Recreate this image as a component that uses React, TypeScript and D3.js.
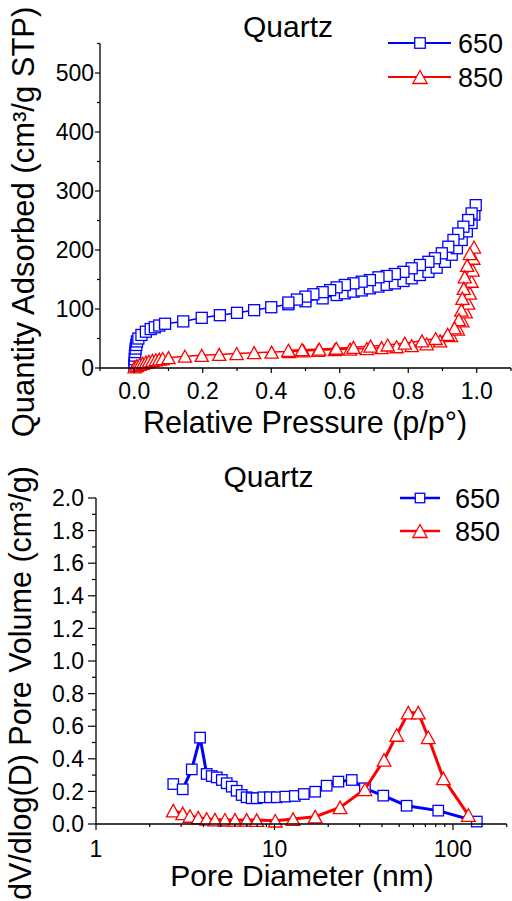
import React from 'react';
import * as d3 from 'd3';

const FONT = 'Liberation Sans, Arial, Helvetica, sans-serif';

const seriesNames = ['650', '850'];
const seriesColors = ['#0000FF', '#FF0000'];

// ---------- Isotherm (top) ----------
const isoTitle = 'Quartz';
const isoXLabel = 'Relative Pressure (p/p°)';
const isoYLabel = 'Quantity Adsorbed (cm³/g STP)';
const isoXTicks = [0, 0.2, 0.4, 0.6, 0.8, 1.0];
const isoXMinor = [-0.1, 0.1, 0.3, 0.5, 0.7, 0.9, 1.1];
const isoYTicks = [0, 100, 200, 300, 400, 500];
const isoYMinor = [50, 150, 250, 350, 450, 550];

const iso650Ads: [number, number][] = [
  [0.0005, 4], [0.001, 9], [0.0015, 15], [0.002, 21], [0.003, 27], [0.004, 33], [0.006, 39], [0.008, 45],
  [0.012, 50], [0.021, 56], [0.034, 61.5], [0.048, 66], [0.06, 69], [0.073, 72], [0.09, 75], [0.143, 79],
  [0.197, 85], [0.25, 89.5], [0.3, 93.5], [0.35, 98], [0.4, 103], [0.45, 108], [0.5, 113], [0.55, 118],
  [0.591, 123.7], [0.615, 126.6], [0.64, 129.4], [0.664, 131.5], [0.688, 135], [0.713, 138], [0.737, 141],
  [0.761, 143.5], [0.786, 147.5], [0.81, 152], [0.834, 157.6], [0.859, 163], [0.883, 170], [0.907, 180],
  [0.927, 192], [0.942, 203], [0.956, 217], [0.971, 231.6], [0.985, 245.8], [0.993, 260], [0.997, 276],
];
const iso650Des: [number, number][] = [
  [0.985, 262], [0.975, 250.8], [0.961, 239.5], [0.946, 228], [0.932, 217], [0.917, 205.6], [0.898, 194.4],
  [0.878, 186], [0.859, 180], [0.834, 174.6], [0.81, 169], [0.786, 163], [0.761, 159.3], [0.737, 156],
  [0.713, 153.7], [0.688, 149], [0.664, 146.3], [0.64, 143.5], [0.615, 140.7], [0.591, 136.7], [0.572, 132],
  [0.55, 128.5], [0.523, 125], [0.5, 121], [0.475, 116], [0.45, 111],
];
const iso850Ads: [number, number][] = [
  [0.001, 2], [0.008, 4], [0.016, 6], [0.025, 8], [0.034, 10], [0.043, 11.5], [0.053, 13], [0.063, 14],
  [0.073, 15], [0.083, 16], [0.1, 17.5], [0.148, 20], [0.197, 21.5], [0.248, 23], [0.299, 24.5], [0.35, 26],
  [0.401, 27], [0.452, 28], [0.494, 29], [0.537, 30], [0.586, 31], [0.63, 32], [0.679, 33], [0.722, 34.5],
  [0.766, 36], [0.81, 38], [0.854, 41], [0.893, 46], [0.925, 55], [0.945, 66], [0.958, 80], [0.968, 95],
  [0.975, 110], [0.98, 127], [0.985, 147], [0.988, 166], [0.99, 186], [0.992, 205],
];
const iso850Des: [number, number][] = [
  [0.98, 194], [0.972, 174], [0.965, 154.5], [0.962, 135], [0.958, 118], [0.955, 98], [0.948, 82], [0.935, 68],
  [0.915, 57], [0.88, 50], [0.84, 46], [0.79, 42], [0.74, 39], [0.69, 37], [0.64, 35], [0.59, 33.5],
  [0.54, 32], [0.49, 31], [0.45, 30],
];

// ---------- Pore size distribution (bottom) ----------
const psdTitle = 'Quartz';
const psdXLabel = 'Pore Diameter (nm)';
const psdYLabel = 'dV/dlog(D) Pore Volume (cm³/g)';
const psdXTicks = [1, 10, 100];
const psdXMinor = [2, 3, 4, 5, 6, 7, 8, 9, 20, 30, 40, 50, 60, 70, 80, 90, 200];
const psdYTicks = [0, 0.2, 0.4, 0.6, 0.8, 1.0, 1.2, 1.4, 1.6, 1.8, 2.0];
const psdYMinor = [0.1, 0.3, 0.5, 0.7, 0.9, 1.1, 1.3, 1.5, 1.7, 1.9];

const psd650D = [2.71, 3.06, 3.44, 3.83, 4.17, 4.45, 4.75, 5.07, 5.4, 5.76, 6.14, 6.55, 6.98, 7.45, 7.95, 8.66, 9.43,
  10.3, 11.5, 13.0, 14.6, 16.9, 19.6, 22.8, 27.1, 32.1, 40.7, 55.0, 82.7, 136];
const psd650V = [0.245, 0.213, 0.335, 0.53, 0.307, 0.294, 0.286, 0.27, 0.25, 0.229, 0.204, 0.178, 0.164, 0.158, 0.158,
  0.164, 0.164, 0.164, 0.168, 0.172, 0.184, 0.198, 0.235, 0.26, 0.27, 0.219, 0.174, 0.112, 0.082, 0.015];
const psd850D = [2.71, 3.06, 3.36, 3.74, 4.17, 4.64, 5.28, 6.01, 6.98, 7.95, 10.1, 12.7, 16.9, 23.3, 32.1, 41.1,
  48.4, 56.2, 63.9, 72.7, 88.3, 122];
const psd850V = [0.082, 0.065, 0.049, 0.039, 0.031, 0.027, 0.026, 0.025, 0.025, 0.024, 0.02, 0.03, 0.045, 0.102,
  0.213, 0.393, 0.546, 0.683, 0.683, 0.532, 0.28, 0.055];

type Pt = [number, number];

function Marker({ kind, x, y, color, size }: { kind: string; x: number; y: number; color: string; size: number }) {
  if (kind === 'square') {
    const h = size / 2;
    return <rect x={x - h} y={y - h} width={size} height={size} fill="#fff" stroke={color} strokeWidth={1.3} />;
  }
  const w = size * 0.55;
  const hh = size * 0.5;
  return (
    <path d={`M${x},${y - hh}L${x + w},${y + hh}L${x - w},${y + hh}Z`} fill="#fff" stroke={color} strokeWidth={1.3} />
  );
}

function Legend({ x0, x1, xm, xt, ys, fs, lw, sq, tri }: any) {
  return (
    <g>
      {seriesNames.map((n, i) => (
        <g key={n}>
          <line x1={x0} x2={x1} y1={ys[i]} y2={ys[i]} stroke={seriesColors[i]} strokeWidth={lw} />
          <Marker kind={i === 0 ? 'square' : 'triangle'} x={xm} y={ys[i]} color={seriesColors[i]} size={i === 0 ? sq : tri} />
          <text x={xt} y={ys[i]} dy="0.36em" fontSize={fs} fontFamily={FONT}>{n}</text>
        </g>
      ))}
    </g>
  );
}

function IsoChart() {
  const x = d3.scaleLinear().domain([-0.1, 1.1]).range([100, 511]);
  const y = d3.scaleLinear().domain([0, 550]).range([368, 43.5]);
  const line = d3.line<Pt>().x((d) => x(d[0])).y((d) => y(d[1]));
  const s650 = iso650Ads.concat(iso650Des);
  const s850 = iso850Ads.concat(iso850Des);
  const [y0] = y.range();
  const x0 = x.range()[0];
  return (
    <g>
      <text x={288} y={37} textAnchor="middle" fontSize={30} fontFamily={FONT}>{isoTitle}</text>
      <path d={line(s650) || ''} fill="none" stroke={seriesColors[0]} strokeWidth={1.5} />
      {s650.map((d, i) => (
        <Marker key={'a' + i} kind="square" x={x(d[0])} y={y(d[1])} color={seriesColors[0]} size={11} />
      ))}
      <path d={line(s850) || ''} fill="none" stroke={seriesColors[1]} strokeWidth={1.5} />
      {s850.map((d, i) => (
        <Marker key={'b' + i} kind="triangle" x={x(d[0])} y={y(d[1])} color={seriesColors[1]} size={12} />
      ))}
      <line x1={x0} x2={x0} y1={y(550)} y2={y0} stroke="#000" strokeWidth={1.3} />
      <line x1={x0} x2={x.range()[1]} y1={y0} y2={y0} stroke="#000" strokeWidth={1.3} />
      {isoXTicks.map((t) => (
        <g key={'xt' + t}>
          <line x1={x(t)} x2={x(t)} y1={y0} y2={y0 + 5} stroke="#000" strokeWidth={1.2} />
          <text x={x(t)} y={399} textAnchor="middle" fontSize={23} fontFamily={FONT}>{d3.format('.1f')(t)}</text>
        </g>
      ))}
      {isoXMinor.map((t) => (
        <line key={'xm' + t} x1={x(t)} x2={x(t)} y1={y0} y2={y0 + 3} stroke="#000" strokeWidth={1.2} />
      ))}
      {isoYTicks.map((t) => (
        <g key={'yt' + t}>
          <line x1={x0 - 5} x2={x0} y1={y(t)} y2={y(t)} stroke="#000" strokeWidth={1.2} />
          <text x={94} y={y(t)} dy="0.36em" textAnchor="end" fontSize={23} fontFamily={FONT}>{t}</text>
        </g>
      ))}
      {isoYMinor.map((t) => (
        <line key={'ym' + t} x1={x0 - 3} x2={x0} y1={y(t)} y2={y(t)} stroke="#000" strokeWidth={1.2} />
      ))}
      <text x={305} y={433} textAnchor="middle" fontSize={30.5} fontFamily={FONT}>{isoXLabel}</text>
      <text transform="translate(34,222) rotate(-90)" textAnchor="middle" fontSize={31} fontFamily={FONT}>{isoYLabel}</text>
      <Legend x0={388} x1={451} xm={420} xt={458} ys={[43, 77]} fs={27} lw={2.2} sq={10.5} tri={13} />
    </g>
  );
}

function PsdChart() {
  const x = d3.scaleLog().domain([1, 200]).range([96, 506.7]);
  const y = d3.scaleLinear().domain([0, 2]).range([824, 498]);
  const s650: Pt[] = psd650D.map((d, i) => [d, psd650V[i]]);
  const s850: Pt[] = psd850D.map((d, i) => [d, psd850V[i]]);
  const ln = d3.line<Pt>().x((d) => x(d[0])).y((d) => y(d[1]));
  const y0 = y(0);
  const x0 = x(1);
  return (
    <g>
      <text x={268.5} y={487} textAnchor="middle" fontSize={30} fontFamily={FONT}>{psdTitle}</text>
      <path d={ln(s650) || ''} fill="none" stroke={seriesColors[0]} strokeWidth={3} />
      {s650.map((d, i) => (
        <Marker key={'a' + i} kind="square" x={x(d[0])} y={y(d[1])} color={seriesColors[0]} size={10.5} />
      ))}
      <path d={ln(s850) || ''} fill="none" stroke={seriesColors[1]} strokeWidth={3} />
      {s850.map((d, i) => (
        <Marker key={'b' + i} kind="triangle" x={x(d[0])} y={y(d[1])} color={seriesColors[1]} size={12.5} />
      ))}
      <line x1={x0} x2={x0} y1={y(2)} y2={y0} stroke="#000" strokeWidth={1.3} />
      <line x1={x0} x2={x.range()[1]} y1={y0} y2={y0} stroke="#000" strokeWidth={1.3} />
      {psdXTicks.map((t) => (
        <g key={'xt' + t}>
          <line x1={x(t)} x2={x(t)} y1={y0} y2={y0 + 6} stroke="#000" strokeWidth={1.2} />
          <text x={x(t)} y={857} textAnchor="middle" fontSize={23} fontFamily={FONT}>{t}</text>
        </g>
      ))}
      {psdXMinor.map((t) => (
        <line key={'xm' + t} x1={x(t)} x2={x(t)} y1={y0} y2={y0 + 3} stroke="#000" strokeWidth={1.2} />
      ))}
      {psdYTicks.map((t) => (
        <g key={'yt' + t}>
          <line x1={x0 - 8} x2={x0} y1={y(t)} y2={y(t)} stroke="#000" strokeWidth={1.2} />
          <text x={84} y={y(t)} dy="0.36em" textAnchor="end" fontSize={23} fontFamily={FONT}>{d3.format('.1f')(t)}</text>
        </g>
      ))}
      {psdYMinor.map((t) => (
        <line key={'ym' + t} x1={x0 - 4} x2={x0} y1={y(t)} y2={y(t)} stroke="#000" strokeWidth={1.2} />
      ))}
      <text x={302} y={886} textAnchor="middle" fontSize={30} fontFamily={FONT}>{psdXLabel}</text>
      <text transform="translate(31,683) rotate(-90)" textAnchor="middle" fontSize={30.5} fontFamily={FONT}>{psdYLabel}</text>
      <Legend x0={400} x1={440} xm={420} xt={455} ys={[498, 531]} fs={27} lw={2.5} sq={9.5} tri={13} />
    </g>
  );
}

export default function App() {
  return (
    <svg width={512} height={901} style={{ position: 'absolute', left: 0, top: 0, background: '#fff' }}>
      <rect width={512} height={901} fill="#fff" />
      <IsoChart />
      <PsdChart />
    </svg>
  );
}
